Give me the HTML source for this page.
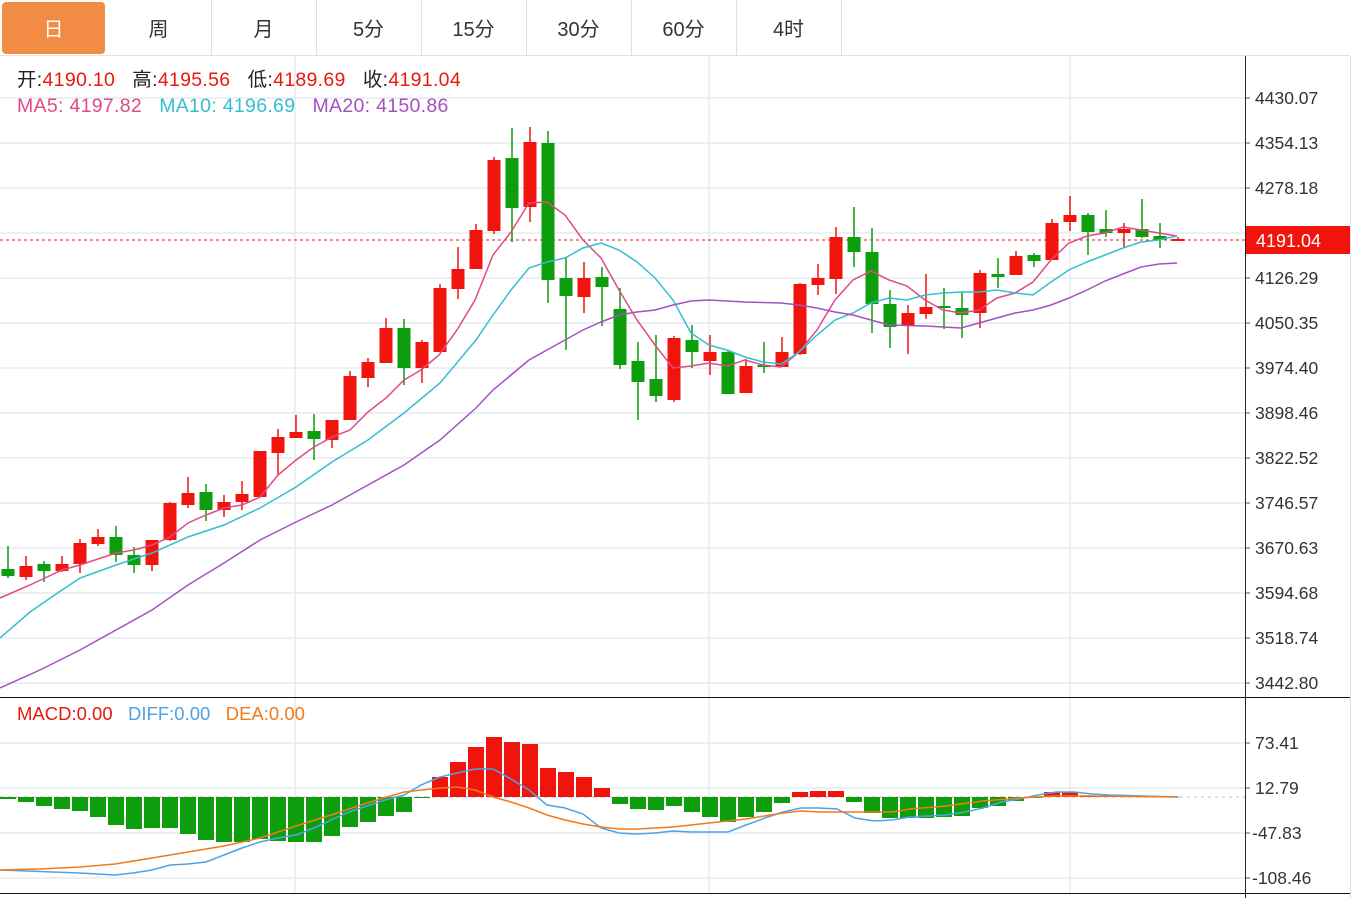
<!DOCTYPE html>
<html><head><meta charset="utf-8">
<style>
html,body{margin:0;padding:0;background:#fff;width:1363px;height:898px;overflow:hidden;font-family:"Liberation Sans","Noto Sans CJK SC",sans-serif;}
.tabs{position:absolute;left:0;top:0;width:1350px;height:55px;border-bottom:1px solid #e3e3e3;}
.tab{position:absolute;top:0;height:55px;width:105px;border-right:1px solid #e0e0e0;text-align:center;line-height:60px;font-size:20px;color:#333;}
.tab.on{background:#f28c45;color:#fff;border-radius:4px;left:2px!important;width:103px;top:2px;height:52px;line-height:56px;border:none}
.leg{position:absolute;font-size:19.5px;white-space:nowrap;letter-spacing:0.3px;line-height:22px;height:22px}
</style></head><body>
<div class="tabs">
<div class="tab on" style="left:0">日</div>
<div class="tab" style="left:106px">周</div>
<div class="tab" style="left:211px">月</div>
<div class="tab" style="left:316px">5分</div>
<div class="tab" style="left:421px">15分</div>
<div class="tab" style="left:526px">30分</div>
<div class="tab" style="left:631px">60分</div>
<div class="tab" style="left:736px">4时</div>
</div>
<svg id="s" width="1363" height="898" style="position:absolute;left:0;top:0" xmlns="http://www.w3.org/2000/svg">
<g id="grid"></g>
<g id="main"></g>
<g font-family="Liberation Sans, sans-serif" font-size="17.5" fill="#333">
<text x="1255" y="104">4430.07</text>
<text x="1255" y="149">4354.13</text>
<text x="1255" y="194">4278.18</text>
<text x="1255" y="284">4126.29</text>
<text x="1255" y="329">4050.35</text>
<text x="1255" y="374">3974.40</text>
<text x="1255" y="419">3898.46</text>
<text x="1255" y="464">3822.52</text>
<text x="1255" y="509">3746.57</text>
<text x="1255" y="554">3670.63</text>
<text x="1255" y="599">3594.68</text>
<text x="1255" y="644">3518.74</text>
<text x="1255" y="689">3442.80</text>
<text x="1255" y="749">73.41</text>
<text x="1255" y="794">12.79</text>
<text x="1252" y="839">-47.83</text>
<text x="1252" y="884">-108.46</text>
</g>
<rect x="1246" y="226" width="104" height="28" fill="#f0140c"/>
<text x="1256" y="247" font-family="Liberation Sans, sans-serif" font-size="18" fill="#fff">4191.04</text>
</svg>
<div class="leg" style="left:17px;top:69px"><span style="color:#222">开:</span><span style="color:#e8190f">4190.10</span>&nbsp;&nbsp;&nbsp;<span style="color:#222">高:</span><span style="color:#e8190f">4195.56</span>&nbsp;&nbsp;&nbsp;<span style="color:#222">低:</span><span style="color:#e8190f">4189.69</span>&nbsp;&nbsp;&nbsp;<span style="color:#222">收:</span><span style="color:#e8190f">4191.04</span></div>
<div class="leg" style="left:17px;top:95px"><span style="color:#e24a86">MA5:&nbsp;4197.82</span>&nbsp;&nbsp;&nbsp;<span style="color:#33bfd0">MA10:&nbsp;4196.69</span>&nbsp;&nbsp;&nbsp;<span style="color:#a451c0">MA20:&nbsp;4150.86</span></div>
<div class="leg" style="left:17px;top:703px;font-size:18.5px;letter-spacing:0"><span style="color:#e8190f">MACD:0.00</span>&nbsp;&nbsp;&nbsp;<span style="color:#4ea3e6">DIFF:0.00</span>&nbsp;&nbsp;&nbsp;<span style="color:#f07b1c">DEA:0.00</span></div>
<script>
var NS="http://www.w3.org/2000/svg";
function el(g,t,a){var e=document.createElementNS(NS,t);for(var k in a)e.setAttribute(k,a[k]);g.appendChild(e);return e;}
var G=document.getElementById("grid"),M=document.getElementById("main");
[98,143,188,233,278,323,368,413,458,503,548,593,638,683,743,788,833,878].forEach(function(y){el(G,"line",{x1:0,x2:1245,y1:y,y2:y,stroke:"#e6ecf0","stroke-width":1.5});el(G,"line",{x1:1245,x2:1250,y1:y,y2:y,stroke:"#555"});});
[295,709,1070].forEach(function(x){el(G,"line",{x1:x,x2:x,y1:56,y2:893,stroke:"#e6ecf0","stroke-width":1.5});});
el(G,"line",{x1:0,x2:1350,y1:697.5,y2:697.5,stroke:"#111"});
el(G,"line",{x1:0,x2:1350,y1:893.5,y2:893.5,stroke:"#111"});
el(G,"line",{x1:1245.5,x2:1245.5,y1:56,y2:898,stroke:"#222"});
el(G,"line",{x1:1350.5,x2:1350.5,y1:56,y2:898,stroke:"#ddd"});
el(G,"line",{x1:0,x2:1245,y1:240,y2:240,stroke:"#e8190f","stroke-dasharray":"3,3"});
el(G,"line",{x1:1180,x2:1245,y1:797,y2:797,stroke:"#9cd3e6","stroke-dasharray":"3,4"});
var R="#f0140c",Gr="#0c9e0c";
var C=[[569,576,546,578,0],[566,577,556,580,1],[564,571,561,582,0],[564,571,556,572,1],[543,564,539,573,1],[537,544,529,546,1],[537,555,526,562,0],[555,565,547,573,0],[540,565,540,571,1],[503,540,502,541,1],
[493,505,477,508,1],[492,510,484,521,0],[502,510,495,517,1],[494,502,481,510,1],[451,497,451,497,1],[437,453,429,475,1],[432,438,415,438,1],[431,439,414,460,0],[420,440,420,448,1],[376,420,371,420,1],
[362,378,358,387,1],[328,363,318,363,1],[328,368,319,385,0],[342,368,340,383,1],[288,352,284,352,1],[269,289,247,299,1],[230,269,224,269,1],[160,231,157,234,1],[158,208,128,242,0],[142,207,127,222,1],
[143,280,131,303,0],[278,296,257,350,0],[278,297,262,313,1],[277,287,267,326,0],[309,365,288,369,0],[361,382,342,420,0],[379,396,335,402,0],[338,400,336,402,1],[340,352,325,368,0],[352,361,335,375,1],
[352,394,350,394,0],[366,393,359,393,1],[365,367,342,373,0],[352,367,337,367,1],[284,354,283,355,1],[278,285,264,295,1],[237,279,227,294,1],[237,252,207,267,0],[252,304,228,333,0],[304,327,290,348,0],
[313,325,305,354,1],[307,314,274,319,1],[306,308,288,329,0],[308,315,292,338,0],[273,313,270,328,1],[274,277,258,288,0],[256,275,251,275,1],[255,261,253,267,0],[223,260,219,260,1],[215,222,196,231,1],
[215,232,213,255,0],[229,233,210,237,0],[229,233,223,248,1],[229,237,199,238,0],[236,240,223,248,0],[239,241,237,241,1]];
C.forEach(function(c,i){var x=8+18*i,col=c[4]?R:Gr;el(M,"line",{x1:x,x2:x,y1:c[2],y2:c[3],stroke:col,"stroke-width":1.5});el(M,"rect",{x:x-6.5,y:c[0],width:13,height:Math.max(2,c[1]-c[0]),fill:col});});
function pl(p,col){el(M,"polyline",{points:p,fill:"none",stroke:col,"stroke-width":1.5});}
pl("0,598 30,585 62,570 80,565 116,553 134,550 152,545 170,537 188,523 206,515 224,508 242,505 260,497 278,475 296,460 314,447 332,437 350,430 368,412 386,398 404,380 421,370 439,355 457,330 475,300 493,255 511,232 529,203 547,202 565,215 583,240 601,258 619,290 637,320 655,345 673,368 691,366 709,363 727,366 745,360 763,365 781,367 799,352 817,330 835,300 853,280 871,271 889,280 907,286 925,300 943,310 961,313 979,310 997,298 1015,293 1033,282 1051,260 1069,243 1087,236 1105,233 1123,227 1141,230 1159,233 1177,236","#e24a86");
pl("0,638 30,612 62,590 80,578 116,565 152,553 188,537 224,525 260,508 296,487 332,462 368,440 404,413 440,383 476,340 493,315 511,290 529,268 547,262 565,258 583,248 601,243 619,250 637,262 655,278 673,300 691,333 709,345 727,350 745,357 763,362 781,364 799,352 817,335 835,320 853,313 871,303 889,298 907,300 925,295 943,293 961,292 979,292 997,290 1015,293 1033,295 1051,282 1069,270 1087,262 1105,255 1123,248 1141,242 1159,240 1177,236","#33bfd0");
pl("0,688 40,670 80,650 116,630 152,610 188,585 224,563 260,540 296,522 332,505 368,485 404,465 440,440 476,408 493,390 511,375 529,360 547,350 565,340 583,330 601,322 619,315 637,312 655,310 673,305 691,301 709,300 745,302 781,303 799,305 817,308 835,312 853,315 871,320 889,325 925,326 961,328 979,323 997,318 1015,313 1033,310 1051,305 1069,298 1087,290 1105,281 1123,274 1141,267 1159,264 1177,263","#a451c0");
var H=[799,802,806,809,811,817,825,829,828,828,834,840,842,842,839,841,842,842,836,827,822,816,812,798,777,762,747,737,742,744,768,772,777,788,804,809,810,806,812,817,822,817,812,803,792,791,791,802,813,818,818,818,817,816,808,806,801,798,792,792,796,796,797,797,797,797];
el(M,"line",{x1:0,x2:1180,y1:797,y2:797,stroke:"#c8a0c8","stroke-dasharray":"4,4"});
H.forEach(function(y,i){var x=8+18*i;var up=y<797;var t=up?y:797,h=Math.abs(y-797);if(h<1)return;el(M,"rect",{x:x-8,y:t,width:16,height:h,fill:up?R:Gr});});
pl("0,870 80,873 115,875 133,873 152,870 170,865 188,864 206,862 224,855 242,848 260,842 278,838 296,835 314,828 331,820 349,812 367,806 385,800 404,795 421,785 440,777 457,773 475,769 493,769 511,779 529,790 547,805 565,808 583,814 601,828 619,833 637,834 655,833 673,831 691,832 709,832 728,832 746,825 765,818 783,812 801,808 819,808 837,809 855,818 874,821 892,820 910,817 928,816 946,815 965,812 983,808 1001,802 1019,799 1038,795 1056,792 1074,792 1092,794 1110,795 1178,797","#4ea3e6");
pl("0,870 40,869 80,867 115,864 152,858 188,852 224,846 260,838 296,826 331,815 367,803 404,792 440,788 457,787 475,790 493,797 511,802 529,808 547,815 565,820 583,824 601,827 619,829 637,829 673,827 709,823 746,819 783,813 801,811 819,812 837,812 874,812 892,812 910,809 946,806 983,801 1019,798 1056,796 1092,796 1178,797","#f07b1c");
</script>
</body></html>
